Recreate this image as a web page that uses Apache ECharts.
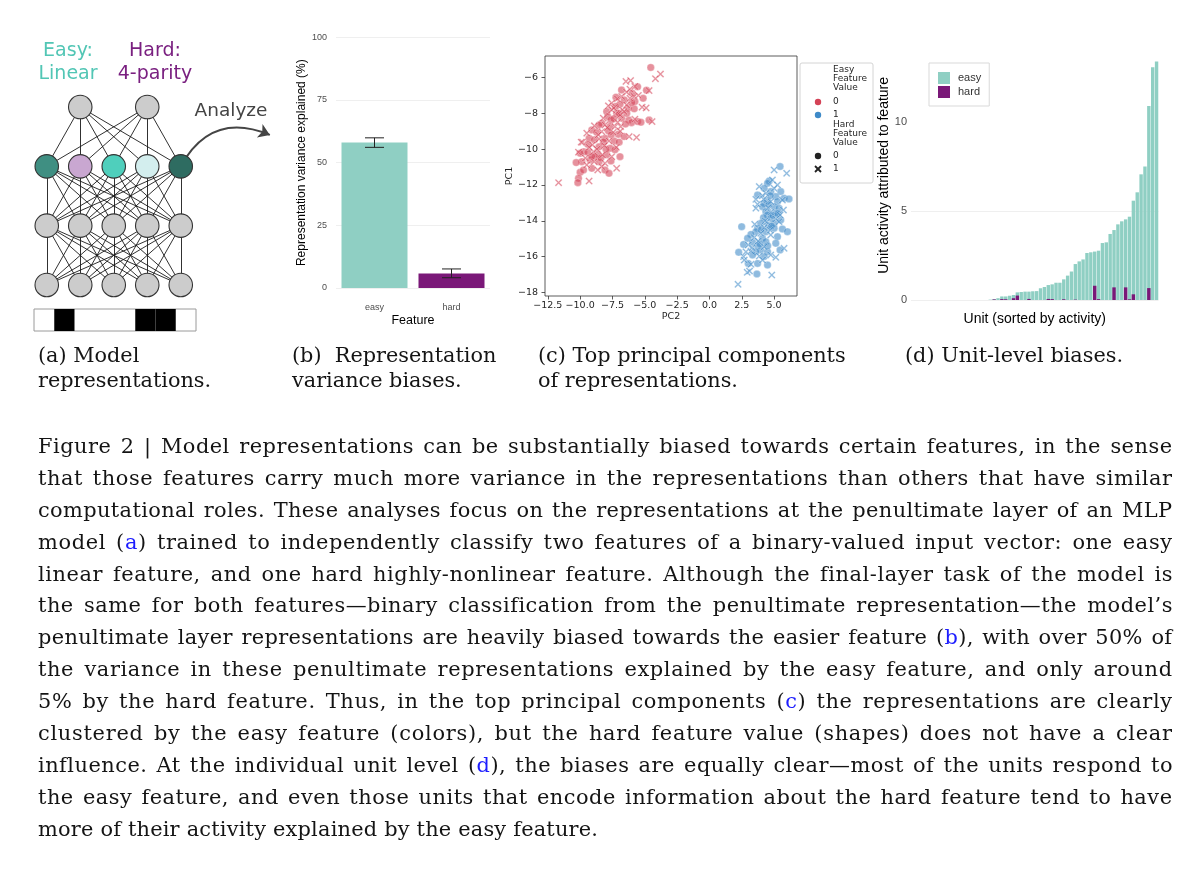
<!DOCTYPE html>
<html><head><meta charset="utf-8">
<script src="https://cdn.jsdelivr.net/npm/echarts@6/dist/echarts.min.js"></script>
<style>
html,body{margin:0;padding:0;background:#fff;}
#chart{position:absolute;left:0;top:0;width:1199px;height:876px;}
#caption{position:absolute;left:38px;top:431px;width:1134px;font-family:"DejaVu Serif",serif;color:#141414;}
#caption div{white-space:nowrap;height:31.9px;line-height:31.9px;}
#caption span.ref{color:#1d1dff;}
</style></head><body>
<div id="chart"></div><div id="caption"></div>
<script>
// ---------- (a) model diagram ----------
const netLayers = [[0,1,2,3,4],[0,1,2,3,4],[0,1,2,3,4],[1,3]]; // bottom -> top, node slots
const hiddenLayerIndex = 2;
const hiddenColors = ['#3f8f82','#c9a7d1','#4fcfbc','#d3eeee','#2e6c61'];
const inputBits = [0,1,0,0,0,1,1,0];
const analyzeTarget = [6.66, 2.53];
// ---------- (b) representation variance ----------
const featureNames = ['easy','hard'];
const varianceExplained = [58.0, 5.8];
const varianceLow = [56.1, 4.1];
const varianceHigh = [59.9, 7.6];
// ---------- (c) principal components: [PC2, PC1, hardValue] ----------
const pcEasy0 = [
[-4.54,-5.44,0],[-3.79,-5.81,1],[-4.18,-6.07,1],[-6.46,-6.22,1],[-6.10,-6.17,1],[-5.56,-6.52,0],[-5.77,-6.50,1],[-4.87,-6.71,0],[-4.67,-6.73,1],[-5.13,-7.16,0],
[-6.15,-6.65,1],[-6.41,-6.82,1],[-5.97,-6.88,0],[-6.79,-7.06,1],[-7.23,-7.10,0],[-7.13,-7.19,1],[-7.56,-7.43,1],[-6.59,-7.25,0],[-6.15,-7.16,1],[-5.77,-7.34,0],
[-5.82,-7.06,1],[-6.92,-7.49,0],[-6.41,-7.53,1],[-7.26,-7.62,0],[-7.82,-7.58,1],[-6.28,-7.71,0],[-6.74,-7.81,1],[-5.82,-7.75,0],[-5.21,-7.66,1],[-7.56,-7.81,1],
[-7.18,-7.99,0],[-7.95,-7.90,0],[-6.92,-8.09,1],[-6.79,-8.27,0],[-6.23,-8.37,0],[-5.77,-8.33,1],[-6.03,-8.52,0],[-5.56,-8.46,0],[-4.67,-8.38,0],[-4.44,-8.46,1],
[-7.87,-8.18,0],[-8.21,-8.27,1],[-7.62,-8.37,0],[-8.33,-8.55,0],[-8.90,-8.70,1],[-8.54,-8.65,0],[-8.08,-8.65,1],[-7.69,-8.74,0],[-7.31,-8.74,1],[-6.87,-8.74,1],
[-9.10,-8.93,0],[-9.49,-9.11,1],[-8.72,-9.06,0],[-8.33,-9.02,1],[-7.82,-8.98,0],[-7.44,-9.06,1],[-7.05,-9.17,0],[-6.21,-9.30,1],[-5.64,-9.35,1],[-9.31,-9.39,0],
[-9.82,-9.61,1],[-8.90,-9.48,0],[-8.54,-9.43,1],[-8.08,-9.39,0],[-7.77,-9.54,1],[-7.38,-9.54,0],[-6.99,-9.61,0],[-9.05,-9.76,1],[-9.41,-9.73,0],[-8.54,-9.87,0],
[-8.13,-9.80,1],[-7.69,-9.95,0],[-7.31,-10.04,0],[-9.72,-10.14,0],[-10.13,-10.17,1],[-10.0,-10.23,0],[-9.41,-10.17,0],[-8.97,-10.14,1],[-8.64,-10.29,0],[-8.28,-10.32,1],
[-7.95,-10.32,0],[-7.56,-10.42,1],[-6.92,-10.42,0],[-9.92,-9.61,1],[-9.87,-10.70,0],[-9.23,-10.60,0],[-8.92,-10.70,1],[-8.54,-10.70,0],[-8.08,-10.79,1],[-7.62,-10.66,0],
[-8.33,-10.97,1],[-9.10,-11.07,0],[-8.64,-11.16,1],[-8.08,-11.16,0],[-7.18,-11.07,1],[-7.77,-11.35,0],[-10.31,-10.75,0],[-10.0,-11.29,0],[-10.13,-11.63,0],[-10.18,-11.87,0],
[-9.31,-11.78,1],[-11.67,-11.87,1],[-9.74,-11.16,0],[-9.49,-10.88,1],[-8.85,-10.42,0],
[-7.0,-8.0,0],[-6.6,-7.9,1],[-7.4,-8.3,0],[-7.1,-8.5,1],[-6.5,-8.6,0],[-6.9,-9.0,1],[-7.6,-9.2,0],[-8.2,-9.6,0],[-8.7,-10.0,1],[-9.1,-10.4,0],
[-8.4,-10.5,0],[-9.6,-10.5,1],[-7.9,-8.8,1],[-6.4,-8.0,0],[-6.0,-7.4,0],[-5.5,-7.0,1],[-6.8,-6.7,0],[-7.4,-7.7,1],[-8.6,-9.2,1],[-9.3,-9.9,1],
[-7.2,-9.9,1],[-8.0,-10.0,0],[-6.6,-9.3,0],[-5.3,-8.5,0],[-4.9,-7.7,1]
];
const pcEasy1 = [
[5.46,-10.97,0],[5.0,-11.16,1],[5.97,-11.35,1],[4.62,-11.78,0],[4.87,-11.72,1],[4.49,-11.91,0],[5.26,-12.0,1],[3.85,-12.09,1],[4.23,-12.19,0],[5.0,-12.19,1],
[4.74,-12.37,0],[4.36,-12.47,1],[5.51,-12.37,0],[3.72,-12.56,0],[4.10,-12.60,1],[5.13,-12.65,0],[5.77,-12.74,0],[6.15,-12.78,0],[5.64,-12.84,1],[3.59,-12.80,1],
[4.49,-12.89,0],[4.74,-12.93,1],[4.23,-13.02,0],[5.26,-12.93,0],[3.72,-13.08,1],[4.10,-13.21,0],[4.54,-13.27,1],[5.0,-13.21,0],[5.38,-13.30,0],[3.59,-13.30,1],
[5.72,-13.40,1],[4.36,-13.49,0],[4.74,-13.53,1],[5.13,-13.58,0],[4.49,-13.68,0],[5.46,-13.68,1],[4.18,-13.83,0],[4.74,-13.86,0],[5.13,-13.90,1],[5.51,-13.96,0],
[4.44,-14.05,1],[3.97,-14.14,0],[5.0,-14.14,0],[5.38,-14.05,1],[4.56,-14.27,0],[4.23,-14.38,1],[3.72,-14.42,0],[5.0,-14.42,0],[2.49,-14.33,0],[4.69,-14.52,1],
[5.64,-14.46,0],[6.03,-14.61,0],[4.36,-14.61,0],[3.59,-14.61,0],[3.97,-14.70,1],[3.21,-14.76,0],[4.74,-14.79,1],[5.26,-14.89,0],[4.10,-14.98,0],[3.46,-14.94,1],
[2.95,-14.98,0],[3.77,-15.13,1],[4.36,-15.17,0],[3.33,-15.20,0],[2.64,-15.32,0],[3.0,-15.35,1],[3.72,-15.39,0],[4.23,-15.45,1],[3.97,-15.63,0],[3.21,-15.69,1],
[3.59,-15.73,0],[2.82,-15.73,1],[2.26,-15.76,0],[4.49,-15.73,0],[2.64,-16.0,1],[3.33,-15.91,0],[3.85,-15.97,1],[5.46,-15.63,0],[4.23,-16.0,0],[4.74,-15.91,1],
[5.13,-16.04,1],[2.69,-16.19,1],[3.0,-16.38,0],[3.21,-16.43,1],[3.72,-16.38,0],[4.49,-16.47,0],[4.10,-16.19,1],[2.92,-16.88,1],[3.10,-16.81,1],[3.67,-16.97,0],
[4.82,-17.03,1],[2.21,-17.55,1],[5.13,-15.26,0],[5.77,-15.54,1],
[4.6,-13.1,0],[4.9,-13.7,0],[4.3,-14.0,1],[4.8,-14.3,0],[4.0,-14.5,0],[3.5,-14.2,1],[4.5,-15.4,0],[3.9,-15.3,0],[4.7,-12.6,0],[5.3,-13.6,0],[4.2,-12.8,1],[3.3,-15.5,1]
];
const pc2Ticks = [-12.5,-10,-7.5,-5,-2.5,0,2.5,5];
const pc1Ticks = [-18,-16,-14,-12,-10,-8,-6];
// ---------- (d) unit-level biases (units sorted by activity) ----------
const unitEasy = [0,0,0,0,0,0,0,0,0,0, 0,0,0,0,0,0,0,0,0,0,
  0.02,0.05,0.10,0.20,0.20,0.24,0.28,0.43,0.45,0.47,
  0.47,0.49,0.50,0.66,0.73,0.84,0.88,0.97,0.97,1.16,
  1.37,1.60,2.02,2.17,2.28,2.64,2.68,2.72,2.77,3.20,
  3.24,3.71,3.93,4.25,4.42,4.53,4.68,5.58,6.05,7.06,
  7.50,10.9,13.07,13.4];
const unitHard = [0,0,0,0,0,0,0,0,0,0, 0,0,0,0,0,0,0,0,0,0,
  0,0.03,0,0.05,0.04,0,0.10,0.25,0,0,
  0.06,0,0,0,0,0.06,0.05,0,0,0.04,
  0,0,0.02,0,0,0,0,0.80,0.05,0,
  0,0,0.71,0,0,0.71,0.04,0.32,0,0,
  0,0.67,0,0];
const unitTicks = [0,5,10];
// ---------- caption ----------
const captionLines = [
"Figure 2 | Model representations can be substantially biased towards certain features, in the sense",
"that those features carry much more variance in the representations than others that have similar",
"computational roles. These analyses focus on the representations at the penultimate layer of an MLP",
"model (a) trained to independently classify two features of a binary-valued input vector: one easy",
"linear feature, and one hard highly-nonlinear feature. Although the final-layer task of the model is",
"the same for both features\u2014binary classification from the penultimate representation\u2014the model\u2019s",
"penultimate layer representations are heavily biased towards the easier feature (b), with over 50% of",
"the variance in these penultimate representations explained by the easy feature, and only around",
"5% by the hard feature. Thus, in the top principal components (c) the representations are clearly",
"clustered by the easy feature (colors), but the hard feature value (shapes) does not have a clear",
"influence. At the individual unit level (d), the biases are equally clear\u2014most of the units respond to",
"the easy feature, and even those units that encode information about the hard feature tend to have",
"more of their activity explained by the easy feature."
];
const subCaptions = [
  ['(a) Model','representations.'],
  ['(b)  Representation','variance biases.'],
  ['(c) Top principal components','of representations.'],
  ['(d) Unit-level biases.']
];

// ================= build =================
const EASY = '#8fcfc3', HARD = '#7a1878';
const RED = 'rgb(212,66,86)', BLUE = 'rgb(62,138,200)';
const SANS = 'Liberation Sans', MPL = 'DejaVu Sans', SERIF = 'DejaVu Serif';
const xPath = 'path://M0,1.5L1.5,0L5,3.5L8.5,0L10,1.5L6.5,5L10,8.5L8.5,10L5,6.5L1.5,10L0,8.5L3.5,5Z';

const nodeData = [];
netLayers.forEach((xs, li) => xs.forEach((x, ni) => {
  nodeData.push({value:[x, li], itemStyle:{color: li === hiddenLayerIndex ? hiddenColors[ni] : '#cccccc'}});
}));
const edgeData = [];
for (let li = 0; li < netLayers.length - 1; li++) {
  netLayers[li].forEach(a => netLayers[li+1].forEach(b => edgeData.push({coords:[[a, li],[b, li+1]]})));
}
const hiddenLast = netLayers[hiddenLayerIndex];
const arrowStart = [hiddenLast[hiddenLast.length-1], hiddenLayerIndex];

const minus = s => s.replace('-', '\u2212');
function pcSeries(points, hard, color) {
  return {
    type:'scatter', xAxisIndex:3, yAxisIndex:3, silent:true,
    data: points.filter(p => p[2] === hard).map(p => [p[0], p[1]]),
    symbol: hard ? xPath : 'circle', symbolSize: 7.5,
    itemStyle:{color:color, opacity:0.58, borderColor:'#ffffff', borderWidth:0.5}
  };
}
const units = unitEasy.map((_, i) => 'unit ' + (i+1));

const graphic = [];
function txt(x, y, s, font, fill, align, extra) {
  graphic.push(Object.assign({type:'text', x:x, y:y, silent:true,
    style:{text:s, font:font, fill:fill, textAlign:align||'left', textVerticalAlign:'middle'}}, extra||{}));
}
// (a) labels
txt(68, 51, 'Easy:', '19px "DejaVu Sans"', '#52c6b5', 'center');
txt(68, 74, 'Linear', '19px "DejaVu Sans"', '#52c6b5', 'center');
txt(155, 51, 'Hard:', '19px "DejaVu Sans"', '#7a2080', 'center');
txt(155, 74, '4-parity', '19px "DejaVu Sans"', '#7a2080', 'center');
txt(231, 111, 'Analyze', '18.5px "DejaVu Sans"', '#444444', 'center');
// sub captions
const subX = [38, 292, 538, 905];
subCaptions.forEach((lines, i) => lines.forEach((s, j) => txt(subX[i], 357 + j*25, s, '20.8px "DejaVu Serif"', '#141414', 'left')));
// (c) legend
graphic.push({type:'rect', silent:true, shape:{x:800, y:63, width:73, height:120, r:2}, style:{fill:'#ffffff', stroke:'#d4d4d4', lineWidth:1}});
const legFont = '9px "DejaVu Sans"';
[['Easy',70],['Feature',79],['Value',88]].forEach(t => txt(833, t[1], t[0], legFont, '#262626'));
txt(833, 102, '0', legFont, '#262626'); txt(833, 115, '1', legFont, '#262626');
[['Hard',125],['Feature',134],['Value',143]].forEach(t => txt(833, t[1], t[0], legFont, '#262626'));
txt(833, 156, '0', legFont, '#262626'); txt(833, 169, '1', legFont, '#262626');
graphic.push({type:'circle', silent:true, shape:{cx:818, cy:102, r:3.2}, style:{fill:RED}});
graphic.push({type:'circle', silent:true, shape:{cx:818, cy:115, r:3.2}, style:{fill:BLUE}});
graphic.push({type:'circle', silent:true, shape:{cx:818, cy:156, r:3.2}, style:{fill:'#222'}});
graphic.push({type:'line', silent:true, shape:{x1:815, y1:166, x2:821, y2:172}, style:{stroke:'#222', lineWidth:1.8}});
graphic.push({type:'line', silent:true, shape:{x1:821, y1:166, x2:815, y2:172}, style:{stroke:'#222', lineWidth:1.8}});

const option = {
  animation:false,
  backgroundColor:'#ffffff',
  textStyle:{fontFamily:SANS},
  graphic: graphic,
  legend:[{
    data:['easy','hard'], orient:'vertical', left:929, top:63, icon:'rect',
    itemWidth:12, itemHeight:12, itemGap:2, padding:[9,8,8,9],
    borderColor:'#d9d9d9', borderWidth:1, selectedMode:false,
    textStyle:{fontFamily:SANS, fontSize:11, color:'#333', padding:[0,0,0,3]}
  }],
  grid:[
    {left:30, top:77.4, width:268, height:237.2},
    {left:34, top:309, width:162, height:22, show:true, borderColor:'#9a9a9a', borderWidth:1, backgroundColor:'#ffffff'},
    {left:336, top:37.3, width:154, height:250.7},
    {left:545, top:56, width:252, height:240, show:true, borderColor:'#333333', borderWidth:0.8, backgroundColor:'#ffffff'},
    {left:911, top:50.8, width:247.5, height:249.2}
  ],
  xAxis:[
    {gridIndex:0, type:'value', min:-0.5, max:7.5, show:false},
    {gridIndex:1, type:'category', data:inputBits.map((_, i) => 'bit ' + (i+1)), show:false, boundaryGap:true},
    {gridIndex:2, type:'category', data:featureNames, axisLine:{show:false}, axisTick:{show:false},
      axisLabel:{color:'#4d4d4d', fontSize:9, margin:15},
      name:'Feature', nameLocation:'middle', nameGap:26, nameTextStyle:{color:'#000', fontSize:12.5}},
    {gridIndex:3, type:'value', min:-12.72, max:6.77, axisLine:{show:false, onZero:false}, splitLine:{show:false},
      axisTick:{show:true, inside:false, length:3.5, lineStyle:{color:'#333', width:0.8}, customValues:pc2Ticks},
      axisLabel:{customValues:pc2Ticks, formatter:v => minus(Number(v).toFixed(1)), fontFamily:MPL, fontSize:9.5, color:'#262626', margin:5},
      name:'PC2', nameLocation:'middle', nameGap:16, nameTextStyle:{fontFamily:MPL, fontSize:9.5, color:'#262626'}},
    {gridIndex:4, type:'category', data:units, axisLine:{show:false}, axisTick:{show:false}, axisLabel:{show:false},
      name:'Unit (sorted by activity)', nameLocation:'middle', nameGap:12, nameTextStyle:{color:'#000', fontSize:14}}
  ],
  yAxis:[
    {gridIndex:0, type:'value', min:-0.5, max:3.5, show:false},
    {gridIndex:1, type:'value', min:0, max:1, show:false},
    {gridIndex:2, type:'value', min:0, max:100, interval:25, axisLine:{show:false}, axisTick:{show:false},
      axisLabel:{color:'#4d4d4d', fontSize:9, margin:9},
      splitLine:{lineStyle:{color:'#ebebeb', width:0.8}},
      name:'Representation variance explained (%)', nameLocation:'middle', nameGap:26, nameRotate:90,
      nameTextStyle:{color:'#000', fontSize:12}},
    {gridIndex:3, type:'value', min:-18.2, max:-4.8, axisLine:{show:false, onZero:false}, splitLine:{show:false},
      axisTick:{show:true, inside:false, length:3.5, lineStyle:{color:'#333', width:0.8}, customValues:pc1Ticks},
      axisLabel:{customValues:pc1Ticks, formatter:v => minus(String(Math.round(v))), fontFamily:MPL, fontSize:9.5, color:'#262626', margin:7},
      name:'PC1', nameLocation:'middle', nameGap:23, nameRotate:90, nameTextStyle:{fontFamily:MPL, fontSize:9.5, color:'#262626'}},
    {gridIndex:4, type:'value', min:0, max:14, interval:5, axisLine:{show:false},
      axisTick:{show:false, customValues:unitTicks},
      axisLabel:{color:'#4d4d4d', fontSize:11, margin:4, customValues:unitTicks},
      splitLine:{showMaxLine:false, lineStyle:{color:'#ebebeb', width:0.8}},
      name:'Unit activity attributed to feature', nameLocation:'middle', nameGap:17, nameRotate:90,
      nameTextStyle:{color:'#000', fontSize:14}}
  ],
  series:[
    // (a) edges, arrow, nodes
    {type:'lines', coordinateSystem:'cartesian2d', xAxisIndex:0, yAxisIndex:0, silent:true, z:1,
      data:edgeData, lineStyle:{color:'#1a1a1a', width:0.9, opacity:1, curveness:0}},
    {type:'lines', coordinateSystem:'cartesian2d', xAxisIndex:0, yAxisIndex:0, silent:true, z:1,
      data:[{coords:[arrowStart, analyzeTarget]}], symbol:['none','arrow'], symbolSize:11,
      lineStyle:{color:'#454545', width:2, opacity:1, curveness:0.45}},
    {type:'scatter', xAxisIndex:0, yAxisIndex:0, silent:true, z:3, data:nodeData, symbolSize:23.5,
      itemStyle:{borderColor:'#333333', borderWidth:1.1, opacity:1}},
    {type:'bar', xAxisIndex:1, yAxisIndex:1, silent:true, data:inputBits, barCategoryGap:0,
      itemStyle:{color:'#000000'}},
    // (b)
    {type:'bar', name:'variance', xAxisIndex:2, yAxisIndex:2, silent:true, barWidth:66,
      data: varianceExplained.map((v, i) => ({value:v, itemStyle:{color: i === 0 ? EASY : HARD}}))},
    {type:'custom', xAxisIndex:2, yAxisIndex:2, silent:true, z:5,
      data: varianceLow.map((lo, i) => [i, lo, varianceHigh[i]]),
      encode:{x:0, y:[1,2]},
      renderItem:(params, api) => {
        const x = api.value(0);
        const lo = api.coord([x, api.value(1)]), hi = api.coord([x, api.value(2)]);
        const hw = 9.5, st = {stroke:'#222', lineWidth:1};
        return {type:'group', children:[
          {type:'line', shape:{x1:lo[0], y1:lo[1], x2:hi[0], y2:hi[1]}, style:st},
          {type:'line', shape:{x1:lo[0]-hw, y1:lo[1], x2:lo[0]+hw, y2:lo[1]}, style:st},
          {type:'line', shape:{x1:hi[0]-hw, y1:hi[1], x2:hi[0]+hw, y2:hi[1]}, style:st}
        ]};
      }},
    // (c)
    pcSeries(pcEasy0, 0, RED), pcSeries(pcEasy0, 1, RED),
    pcSeries(pcEasy1, 0, BLUE), pcSeries(pcEasy1, 1, BLUE),
    // (d)
    {type:'bar', name:'easy', xAxisIndex:4, yAxisIndex:4, silent:true, data:unitEasy,
      barCategoryGap:'12%', itemStyle:{color:EASY}},
    {type:'bar', name:'hard', xAxisIndex:4, yAxisIndex:4, silent:true, data:unitHard,
      barGap:'-100%', barCategoryGap:'12%', itemStyle:{color:HARD}}
  ]
};
const chart = echarts.init(document.getElementById('chart'), null, {renderer:'canvas'});
chart.setOption(option);

// caption paragraph (justified per line: spread between letters and words)
(function(){
  const box = document.getElementById('caption');
  const W = 1134;
  const fs = 20.9;
  const cv = document.createElement('canvas').getContext('2d');
  box.style.fontSize = fs + 'px';
  cv.font = fs + 'px "DejaVu Serif"';
  captionLines.forEach((line, i) => {
    const d = document.createElement('div');
    const parts = line.split(/\(([abcd])\)/);
    parts.forEach((p, k) => {
      if (k % 2 === 1) {
        d.appendChild(document.createTextNode('('));
        const s = document.createElement('span'); s.className = 'ref'; s.textContent = p; d.appendChild(s);
        d.appendChild(document.createTextNode(')'));
      } else d.appendChild(document.createTextNode(p));
    });
    const w = cv.measureText(line).width;
    const spaces = (line.match(/ /g) || []).length;
    const chars = line.length - 1;
    if (i < captionLines.length - 1) {
      const extra = W - w;
      const ls = extra * 0.6 / chars;
      const ws = (extra - ls * chars) / spaces;
      d.style.letterSpacing = ls + 'px';
      d.style.wordSpacing = ws + 'px';
    } else {
      d.style.letterSpacing = '0.2px';
    }
    box.appendChild(d);
  });
})();
</script></body></html>
